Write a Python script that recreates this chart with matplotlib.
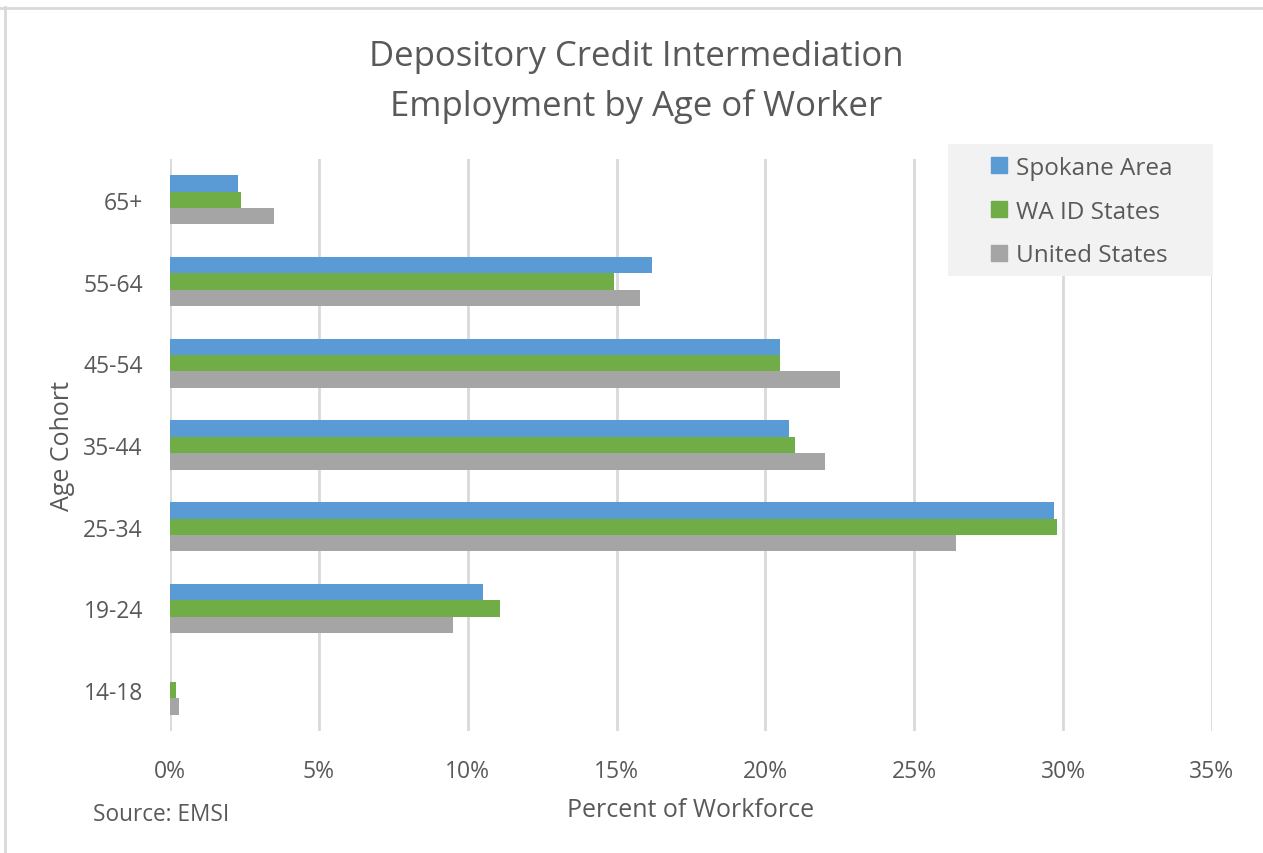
import numpy as np
import matplotlib.pyplot as plt
from matplotlib.lines import Line2D
from matplotlib.patches import Rectangle
from matplotlib.ticker import FuncFormatter

# Share of workforce by age cohort (percent)
cohorts = ['65+', '55-64', '45-54', '35-44', '25-34', '19-24', '14-18']
spokane = [2.3, 16.2, 20.5, 20.8, 29.7, 10.5, 0.0]
wa_id = [2.4, 14.9, 20.5, 21.0, 29.8, 11.1, 0.2]
united_states = [3.5, 15.8, 22.5, 22.0, 26.4, 9.5, 0.3]

series_names = ['Spokane Area', 'WA ID States', 'United States']
colors = ['#5B9BD5', '#70AD47', '#A5A5A5']
text_color = '#595959'

plt.rcParams['font.family'] = ['Open Sans', 'DejaVu Sans']

W, H = 1263, 854
fig = plt.figure(figsize=(W / 100, H / 100), dpi=100)
ax = fig.add_axes([170 / W, 1 - 732 / H, 1042 / W, 572 / H])

y = np.arange(len(cohorts))
h = 0.2
for i, (vals, c) in enumerate(zip([spokane, wa_id, united_states], colors)):
    ax.barh(y + (i - 1) * h, vals, height=h, color=c, zorder=3)

ax.set_xlim(0, 35)
ax.set_ylim(len(cohorts) - 0.5, -0.5)
ax.set_xticks(np.arange(0, 36, 5))
ax.xaxis.set_major_formatter(FuncFormatter(lambda v, _: f'{v:.0f}%'))
ax.set_yticks(y)
ax.set_yticklabels(cohorts)
ax.tick_params(length=0, labelsize=16.5, labelcolor=text_color)
ax.tick_params(axis='x', pad=20)
ax.tick_params(axis='y', pad=19.5)
ax.grid(axis='x', color='#D9D9D9', linewidth=2, zorder=0)
for s in ax.spines.values():
    s.set_visible(False)

ax.set_xlabel('Percent of Workforce', fontsize=18, color=text_color, labelpad=10)
ax.set_ylabel('Age Cohort', fontsize=18, color=text_color, labelpad=6)

fig.text(636 / W, 1 - 57 / H, 'Depository Credit Intermediation', ha='center', va='center',
         fontsize=25, color=text_color)
fig.text(636 / W, 1 - 106 / H, 'Employment by Age of Worker', ha='center', va='center',
         fontsize=25, color=text_color)
fig.text(93 / W, 1 - 815 / H, 'Source: EMSI', ha='left', va='center', fontsize=16.3,
         color=text_color)

# legend panel
fig.add_artist(Rectangle((948 / W, 1 - 277 / H), 265 / W, 132 / H, transform=fig.transFigure,
                         facecolor='#F2F2F2', edgecolor='none', zorder=5))
handles = [Line2D([], [], marker='s', linestyle='', markersize=11.5, color=c) for c in colors]
leg = fig.legend(handles, series_names, loc='upper left',
                 bbox_to_anchor=(987 / W, 1 - 157 / H), bbox_transform=fig.transFigure,
                 frameon=False, fontsize=17.5, labelcolor=text_color,
                 handletextpad=0.2, labelspacing=0.81, borderpad=0, handlelength=1.0,
                 borderaxespad=0)
leg.set_zorder(6)

# thin outer frame on top and left
fig.add_artist(Line2D([0.0, 1.0], [1 - 9 / H, 1 - 9 / H], color='#D9D9D9', linewidth=2))
fig.add_artist(Line2D([5 / W, 5 / W], [0.0, 1 - 8 / H], color='#D9D9D9', linewidth=2))

fig.savefig('out.png', dpi=100)
